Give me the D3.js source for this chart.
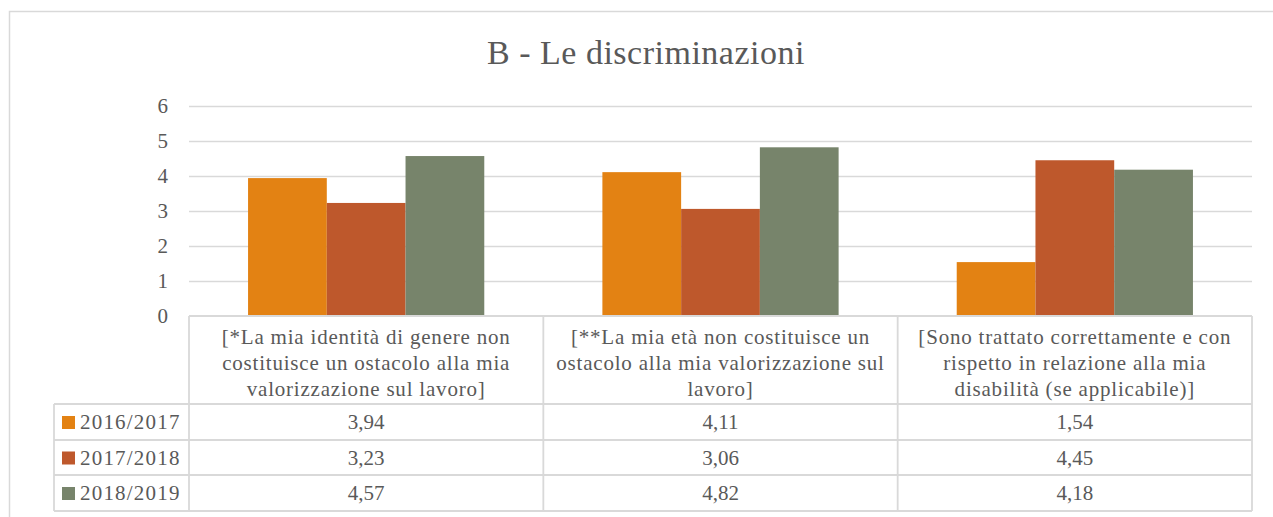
<!DOCTYPE html>
<html>
<head>
<meta charset="utf-8">
<script src="https://cdn.jsdelivr.net/npm/d3@7"></script>
<style>
  html, body { margin: 0; padding: 0; background: #fff; }
  svg { display: block; }
</style>
</head>
<body>
<svg id="chart" width="1273" height="517"></svg>
<script>
// Survey items (each header is split into its printed lines)
const categories = [
  "[*La mia identità di genere non costituisce un ostacolo alla mia valorizzazione sul lavoro]",
  "[**La mia età non costituisce un ostacolo alla mia valorizzazione sul lavoro]",
  "[Sono trattato correttamente e con rispetto in relazione alla mia disabilità (se applicabile)]"
];
const categoryLines = [
  ["[*La mia identità di genere non", "costituisce un ostacolo alla mia", "valorizzazione sul lavoro]"],
  ["[**La mia età non costituisce un", "ostacolo alla mia valorizzazione sul", "lavoro]"],
  ["[Sono trattato correttamente e con", "rispetto in relazione alla mia", "disabilità (se applicabile)]"]
];
const seriesNames = ["2016/2017", "2017/2018", "2018/2019"];
const values2016 = [3.94, 4.11, 1.54];
const values2017 = [3.23, 3.06, 4.45];
const values2018 = [4.57, 4.82, 4.18];
const yTicks = [0, 1, 2, 3, 4, 5, 6];
const colors = ["#E38213", "#BE582C", "#77846B"];

(function draw() {
  const seriesValues = [values2016, values2017, values2018];

  const svg = d3.select("#chart");
  const FONT = "'Liberation Serif', 'Times New Roman', serif";
  const TEXT = "#595959";
  const LINE = "#d9d9d9";
  const FS = 21;

  // Plot geometry
  const plotLeft = 189, plotRight = 1252, plotTop = 106, plotBottom = 316;
  const tableRows = [316, 404, 440, 475, 511];
  const legendLeft = 54;

  // Chart frame
  svg.append("path")
    .attr("d", `M9.5,517 V11.5 H1273`)
    .attr("fill", "none").attr("stroke", LINE).attr("stroke-width", 1.5);

  // Title
  svg.append("text")
    .attr("x", 646).attr("y", 64)
    .attr("text-anchor", "middle")
    .attr("font-family", FONT).attr("font-size", 34)
    .attr("letter-spacing", 0.5)
    .attr("fill", TEXT)
    .text("B - Le discriminazioni");

  const x0 = d3.scaleBand().domain(categories).range([plotLeft, plotRight]).paddingInner(0).paddingOuter(0);
  const x1 = d3.scaleBand().domain(seriesNames).range([0, x0.bandwidth()]).paddingInner(0).paddingOuter(0.75);
  const y = d3.scaleLinear().domain([0, 6]).range([plotBottom, plotTop]);

  // Gridlines
  svg.append("g").selectAll("line").data(yTicks.filter(d => d > 0)).join("line")
    .attr("x1", plotLeft).attr("x2", plotRight)
    .attr("y1", d => Math.round(y(d)) + 0.5).attr("y2", d => Math.round(y(d)) + 0.5)
    .attr("stroke", LINE).attr("stroke-width", 1.5);

  // Y axis labels
  const yAxis = d3.axisLeft(y).tickValues(yTicks).tickSize(0).tickPadding(21).tickFormat(d3.format("d"));
  const gy = svg.append("g").attr("transform", `translate(${plotLeft},0)`).call(yAxis);
  gy.select(".domain").remove();
  gy.selectAll("text").attr("font-family", FONT).attr("font-size", FS).attr("fill", TEXT);

  // Bars
  const groups = svg.append("g").selectAll("g").data(categories).join("g")
    .attr("transform", d => `translate(${x0(d)},0)`);
  groups.selectAll("rect")
    .data((d, i) => seriesNames.map((s, j) => ({ s, v: seriesValues[j][i], j })))
    .join("rect")
    .attr("x", d => x1(d.s))
    .attr("width", x1.bandwidth())
    .attr("y", d => y(d.v))
    .attr("height", d => y(0) - y(d.v))
    .attr("fill", d => colors[d.j]);

  // Data table
  const tbl = svg.append("g");
  const tl = (ax, ay, bx, by) => tbl.append("line")
    .attr("x1", ax).attr("y1", ay).attr("x2", bx).attr("y2", by)
    .attr("stroke", LINE).attr("stroke-width", 1.8);

  tl(plotLeft, tableRows[0], plotRight, tableRows[0]);
  tableRows.slice(1).forEach(r => tl(legendLeft, r, plotRight, r));
  x0.domain().forEach(c => tl(x0(c), tableRows[0], x0(c), tableRows[4]));
  tl(plotRight, tableRows[0], plotRight, tableRows[4]);
  tl(legendLeft, tableRows[1], legendLeft, tableRows[4]);

  // Header cells
  categories.forEach((c, i) => {
    const cx = x0(c) + x0.bandwidth() / 2;
    const t = tbl.append("text")
      .attr("text-anchor", "middle")
      .attr("font-family", FONT).attr("font-size", FS)
      .attr("letter-spacing", 0.8)
      .attr("fill", TEXT);
    categoryLines[i].forEach((ln, k) => {
      t.append("tspan").attr("x", cx).attr("y", 344 + k * 26).text(ln);
    });
  });

  // Value rows with legend keys
  const fmt = v => d3.format(".2f")(v).replace(".", ",");
  seriesNames.forEach((s, j) => {
    const rowMid = (tableRows[j + 1] + tableRows[j + 2]) / 2;
    tbl.append("rect")
      .attr("x", 62).attr("y", rowMid - 6).attr("width", 13).attr("height", 13)
      .attr("fill", colors[j]);
    tbl.append("text")
      .attr("x", 80).attr("y", rowMid + 7)
      .attr("font-family", FONT).attr("font-size", FS)
      .attr("letter-spacing", 1.2)
      .attr("fill", TEXT)
      .text(s);
    categories.forEach((c, i) => {
      tbl.append("text")
        .attr("x", x0(c) + x0.bandwidth() / 2).attr("y", rowMid + 7)
        .attr("text-anchor", "middle")
        .attr("font-family", FONT).attr("font-size", FS).attr("fill", TEXT)
        .text(fmt(seriesValues[j][i]));
    });
  });
})();
</script>
</body>
</html>
